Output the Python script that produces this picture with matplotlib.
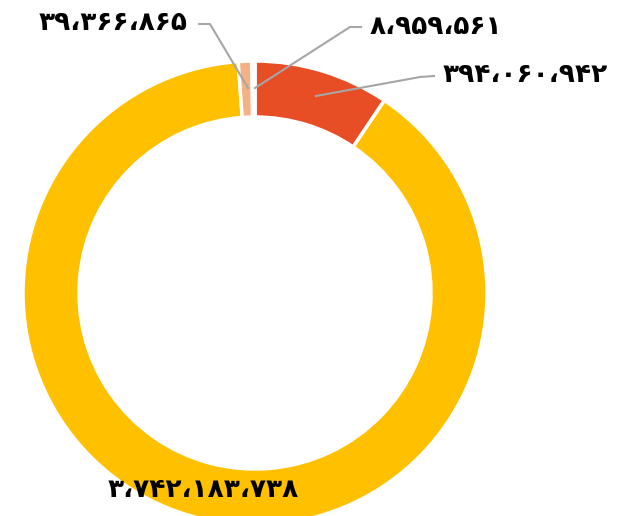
import matplotlib
matplotlib.use("Agg")
import matplotlib.pyplot as plt

# Data (clockwise from 12 o'clock)
values = [394060942, 3742183738, 39366865, 8959561]
labels = ["۳۹۴،۰۶۰،۹۴۲", "۳،۷۴۲،۱۸۳،۷۳۸", "۳۹،۳۶۶،۸۶۵", "۸،۹۵۹،۵۶۱"]
colors = ["#E84E25", "#FFC000", "#F4B183", "#FFF4E8"]

W, H = 629, 516
fig = plt.figure(figsize=(W / 100, H / 100), dpi=100)
ax = fig.add_axes([0, 0, 1, 1])
ax.set_xlim(0, W)
ax.set_ylim(0, H)
ax.set_aspect("equal")
ax.axis("off")

cx, cy = 255, H - 293
R = 232
wedges, _ = ax.pie(values, colors=colors, startangle=90, counterclock=False,
                   radius=R, center=(cx, cy), frame=True,
                   wedgeprops=dict(width=56, edgecolor="white", linewidth=2.5))
ax.set_xlim(0, W)
ax.set_ylim(0, H)
ax.axis("off")

font = dict(family=["DejaVu Sans"], fontweight="bold", fontsize=19, color="black")
line = dict(color="#A6A6A6", lw=1.5)

def y(p):
    return H - p

# label 39,366,865 (peach)
ax.plot([199, 210, 248], [y(24), y(24), y(88)], **line)
ax.text(187, y(23), labels[2], ha="right", va="center", **font)
# label 8,959,561 (tiny)
ax.plot([361, 350, 255], [y(27), y(27), y(88)], **line)
ax.text(370, y(27), labels[3], ha="left", va="center", **font)
# label 394,060,942 (red)
ax.plot([434, 420, 316], [y(76), y(77), y(96)], **line)
ax.text(443, y(75), labels[0], ha="left", va="center", **font)
# label big yellow
ax.text(203, y(490), labels[1], ha="center", va="center", **font)

fig.savefig("out.png", dpi=100)
